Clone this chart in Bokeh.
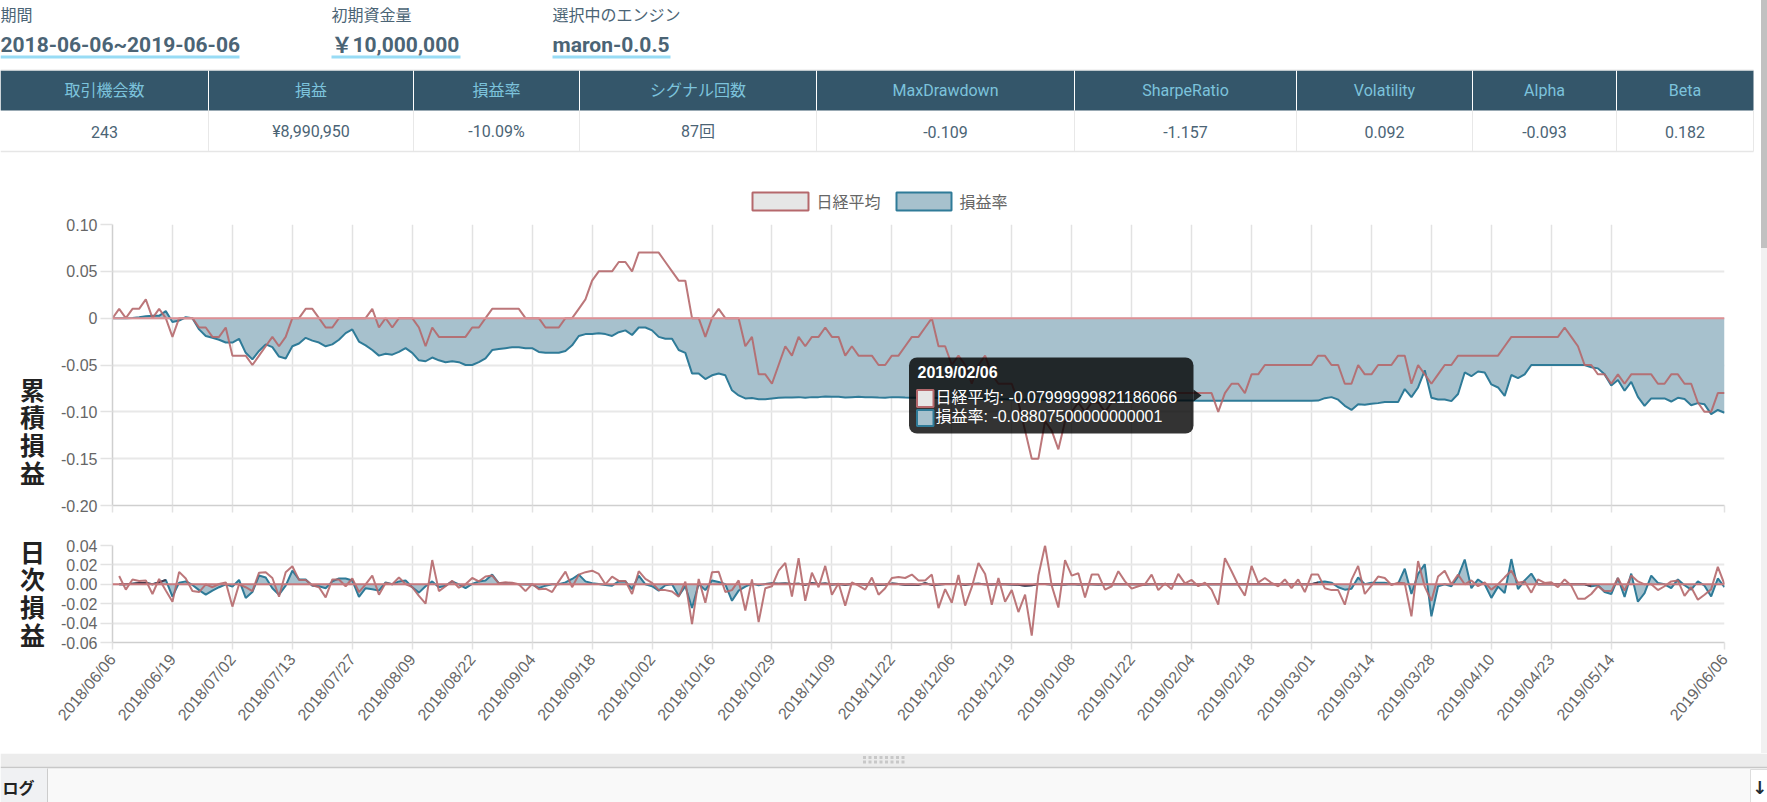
from bokeh.core.properties import value
from bokeh.embed import file_html
from bokeh.layouts import column, row
from bokeh.models import BoxAnnotation, Div, FixedTicker, Label, PolyAnnotation, Range1d, Span
from bokeh.plotting import figure
from bokeh.resources import INLINE

nan = float("nan")

# summary block
top_titles = ["期間", "初期資金量", "選択中のエンジン"]
top_values = ["2018-06-06~2019-06-06", "￥10,000,000", "maron-0.0.5"]
table_headers = ["取引機会数", "損益", "損益率", "シグナル回数", "MaxDrawdown", "SharpeRatio", "Volatility", "Alpha", "Beta"]
table_values = ["243", "¥8,990,950", "-10.09%", "87回", "-0.109", "-1.157", "0.092", "-0.093", "0.182"]

# x axis, one point per trading day
tick_index = [0, 9, 18, 27, 36, 45, 54, 63, 72, 81, 90, 99, 108, 117, 126, 135, 144, 153, 162, 171, 180, 189, 198, 207, 216, 225, 242]
tick_dates = ["2018/06/06", "2018/06/19", "2018/07/02", "2018/07/13", "2018/07/27", "2018/08/09", "2018/08/22",
              "2018/09/04", "2018/09/18", "2018/10/02", "2018/10/16", "2018/10/29", "2018/11/09", "2018/11/22",
              "2018/12/06", "2018/12/19", "2019/01/08", "2019/01/22", "2019/02/04", "2019/02/18", "2019/03/01",
              "2019/03/14", "2019/03/28", "2019/04/10", "2019/04/23", "2019/05/14", "2019/06/06"]

nikkei_cum = [
    0, .01, 0, .01, .01, .02, 0, .01, 0, -.02,
    0, 0, 0, -.01, -.01, -.02, -.02, -.01, -.04, -.04,
    -.04, -.05, -.04, -.03, -.02, -.03, -.02, 0, 0, .01,
    .01, 0, -.01, -.01, 0, 0, 0, 0, 0, .01,
    -.01, 0, -.01, 0, 0, 0, -.01, -.03, -.01, -.02,
    -.02, -.02, -.02, -.02, -.01, -.01, 0, .01, .01, .01,
    .01, .01, 0, 0, 0, -.01, -.01, -.01, 0, 0,
    .01, .02, .04, .05, .05, .05, .06, .06, .05, .07,
    .07, .07, .07, .06, .05, .04, .04, 0, 0, -.02,
    0, .01, 0, 0, 0, -.03, -.02, -.06, -.06, -.07,
    -.05, -.03, -.04, -.02, -.03, -.02, -.02, -.01, -.02, -.02,
    -.04, -.03, -.04, -.04, -.04, -.05, -.05, -.04, -.04, -.03,
    -.02, -.02, -.01, 0, -.03, -.03, -.05, -.04, -.05, -.07,
    -.05, -.04, -.06, -.07, -.07, -.07, -.09, -.12, -.15, -.15,
    -.11, -.12, -.14, -.11, -.10, -.09, -.10, -.09, -.09, -.10,
    -.09, -.08, -.08, -.08, -.08, -.08, -.08, -.08, -.08, -.08,
    -.08, -.08, -.08, -.08, -.08, -.08, -.10, -.08, -.07, -.07,
    -.08, -.06, -.06, -.05, -.05, -.05, -.05, -.05, -.05, -.05,
    -.05, -.04, -.04, -.05, -.05, -.07, -.07, -.05, -.06, -.06,
    -.05, -.05, -.05, -.04, -.04, -.07, -.05, -.06, -.07, -.06,
    -.05, -.05, -.04, -.04, -.04, -.04, -.04, -.04, -.04, -.03,
    -.02, -.02, -.02, -.02, -.02, -.02, -.02, -.02, -.01, -.02,
    -.03, -.05, -.05, -.06, -.06, -.07, -.06, -.07, -.06, -.06,
    -.06, -.06, -.07, -.07, -.06, -.06, -.07, -.07, -.09, -.10,
    -.10, -.08, -.08,
]
engine_cum = [
    0, 0, 0, .0003, .001, .002, .0025, .0025, .0075, -.004,
    -.0025, .001, 0, -.012, -.019, -.021, -.023, -.026, -.026, -.022,
    -.037, -.044, -.035, -.028, -.031, -.041, -.043, -.03, -.027, -.021,
    -.024, -.026, -.03, -.028, -.023, -.016, -.012, -.025, -.029, -.034,
    -.04, -.038, -.039, -.036, -.032, -.037, -.045, -.046, -.042, -.045,
    -.047, -.046, -.047, -.05, -.05, -.047, -.043, -.034, -.033, -.032,
    -.031, -.031, -.032, -.032, -.036, -.037, -.037, -.037, -.035, -.029,
    -.019, -.017, -.017, -.016, -.017, -.019, -.015, -.013, -.018, -.01,
    -.01, -.013, -.02, -.022, -.022, -.034, -.037, -.059, -.059, -.065,
    -.061, -.059, -.061, -.077, -.0825, -.0857, -.0853, -.0865, -.0865, -.0857,
    -.085, -.0847, -.0847, -.0843, -.085, -.0843, -.0843, -.0836, -.084, -.084,
    -.0847, -.0843, -.084, -.0843, -.0843, -.0847, -.085, -.0843, -.0843, -.0847,
    -.085, -.085, -.085, -.085, -.0853, -.0855, -.0857, -.0855, -.086, -.086,
    -.0862, -.086, -.0862, -.0865, -.0865, -.0868, -.0868, -.087, -.087, -.0872,
    -.0872, -.0875, -.0875, -.0876, -.0876, -.0878, -.0878, -.0878, -.088, -.088,
    -.088, -.088, -.088, -.088, -.088, -.088, -.088, -.088, -.088, -.088,
    -.088, -.088, -.088, -.0881, -.088075, -.0881, -.0881, -.0881, -.0881, -.0881,
    -.0881, -.0881, -.0881, -.0881, -.0881, -.0881, -.0881, -.0881, -.0881, -.0881,
    -.0881, -.088, -.0854, -.0843, -.087, -.0936, -.098, -.092, -.0925, -.0914,
    -.0907, -.0896, -.0896, -.0896, -.0757, -.0843, -.074, -.0557, -.085, -.0868,
    -.0868, -.0886, -.081, -.058, -.062, -.057, -.058, -.0707, -.074, -.083,
    -.0607, -.064, -.06, -.05, -.05, -.05, -.05, -.05, -.05, -.05,
    -.05, -.05, -.0525, -.0536, -.06, -.072, -.066, -.0775, -.068, -.084,
    -.0936, -.0857, -.0857, -.0857, -.089, -.085, -.0864, -.0929, -.0907, -.092,
    -.1025, -.098, -.101,
]
nikkei_daily = [
    nan, .0086, -.0055, .005, .0035, .004, -.01, .0055, -.0065, -.018,
    .0128, .006, -.007, -.008, 0, -.003, .0003, .002, -.023, 0,
    -.003, -.007, .012, .0125, .0065, -.0127, .0125, .0186, .0045, .0045,
    -.001, -.003, -.0135, .005, .005, -.002, .006, -.008, 0, .009,
    -.0107, .0014, 0, .007, .0003, -.003, -.012, -.02, .025, -.007,
    -.002, .0035, -.0035, 0, .0065, .003, .008, .009, .001, .002,
    .0015, 0, -.007, .0003, -.005, -.0045, -.008, .003, .013, -.003,
    .01, .0125, .014, .0107, 0, .008, .0035, .0035, -.01, .0135,
    .0055, .0014, -.006, -.006, -.0075, -.0127, .0028, -.041, .0055, -.019,
    .0124, .013, -.008, -.006, .004, -.027, .005, -.039, -.004, -.002,
    .014, .022, -.0127, .027, -.017, .012, -.003, .019, -.0107, .001,
    -.022, .002, -.0014, -.0055, .007, -.0107, -.004, .0065, .0076, .0065,
    .01, .004, .004, .01, -.0245, -.005, -.019, .0097, -.022, -.003,
    .022, .0107, -.021, .0065, -.018, -.006, -.0286, -.0107, -.053, .009,
    .04, -.0014, -.024, .025, .009, .0114, -.0135, .01, .01, -.0055,
    -.002, .0135, .003, -.0045, -.002, 0, .01, -.006, .001, -.005,
    .0107, .001, .0045, -.002, .0017, -.0055, -.021, .027, .0135, -.0007,
    -.0117, .019, .0017, .0065, .0014, -.002, .005, -.004, .005, -.008,
    .01, .01, -.004, -.006, -.006, -.021, .0045, .019, -.01, -.0014,
    .008, .0065, -.0007, .0017, .001, -.033, .024, -.0024, -.017, .008,
    .014, 0, .01, 0, .004, -.002, .002, -.0055, 0, .0072,
    .014, .0017, .003, -.0086, .005, .0014, .002, -.003, .005, -.0014,
    -.015, -.015, -.01, -.002, -.007, -.007, .0065, -.0065, .009, .003,
    0, 0, -.006, -.002, .003, .004, -.012, -.003, -.016, -.0107,
    -.005, .018, 0,
]
engine_daily = [
    nan, 0, 0, .0007, .0014, .0014, 0, .002, .0045, -.0127,
    .0017, .003, -.0007, -.006, -.0107, -.0065, -.003, 0, -.0024, .0045,
    -.014, -.008, .009, .007, -.004, -.0107, -.0014, .014, .005, .005,
    -.0014, -.002, -.004, .003, .006, .006, .004, -.013, -.004, -.005,
    -.0065, .002, 0, .003, .004, -.003, -.0086, -.002, .003, -.003,
    -.0014, .003, 0, -.004, .0003, .003, .004, .01, .001, .001,
    .0007, 0, -.0003, 0, -.004, -.0014, 0, 0, .002, .0055,
    .01, .003, .001, .0003, -.0007, -.0014, .003, .003, -.005, .009,
    0, -.002, -.0065, -.001, 0, -.012, -.002, -.0245, .0003, -.006,
    .004, .0024, 0, -.017, -.0065, -.0024, .0007, -.001, .0003, .0008,
    .0005, .0008, .0003, .0006, -.0005, .0012, .0003, .0008, -.0002, .0002,
    -.0004, .0004, .0003, -.0003, .0002, -.0004, -.0003, .0007, .0002, -.0004,
    -.0003, -.0006, .001, -.0006, -.0002, .0004, .0002, .0004, -.0004, .0003,
    .0005, .0001, -.0002, .0002, .0001, -.0002, -.0004, -.0014, -.001, .0004,
    .0002, -.0002, .0001, -.0001, .0002, -.0002, 0, .0001, -.0002, 0,
    0, .0001, 0, 0, 0, -.0001, 0, 0, 0, 0,
    0, 0, 0, -.0001, .0001, 0, 0, 0, 0, 0,
    0, 0, 0, 0, 0, 0, 0, 0, 0, 0,
    0, .002, .0028, .0017, -.003, -.0055, -.0046, .007, 0, .0017,
    .0017, .0017, 0, .0007, .016, -.01, .0107, .0207, -.033, -.002,
    0, -.002, .008, .0255, -.004, .005, 0, -.014, -.0024, -.009,
    .026, -.005, .004, .011, 0, 0, 0, 0, 0, 0,
    0, 0, -.002, -.001, -.008, -.01, .0065, -.013, .011, -.018,
    -.009, .009, .0014, 0, -.004, .005, -.001, -.0055, .003, -.0014,
    -.0125, .006, -.003,
]
index = list(range(len(nikkei_cum)))

# days where the engine stays flat and both lines sit on the zero line
flat_days = [(1, 8), (98, 181), (214, 222)]

cum_ticks = [0.10, 0.05, 0, -0.05, -0.10, -0.15, -0.20]
cum_tick_labels = ["0.10", "0.05", "0", "-0.05", "-0.10", "-0.15", "-0.20"]
daily_ticks = [0.04, 0.02, 0, -0.02, -0.04, -0.06]
daily_tick_labels = ["0.04", "0.02", "0.00", "-0.02", "-0.04", "-0.06"]

NAVY = "#34566a"
SKY = "#7cc3dc"
BODY = "#4b6475"
RED = "#b5686c"
BLUE = "#2f7b98"
BLUE_FILL = "#a7c1cd"
UI_FONT = "Roboto, 'Noto Sans CJK JP'"
CJK_FONT = "'Noto Sans CJK JP'"
AXIS_FONT = "'Liberation Sans', 'Noto Sans CJK JP'"
CONTENT_W = 1761
TITLE_W = 48
LEFT = 112
RIGHT = 1724


def page_figure(w, h, y0):
    # figure whose data coordinates are page pixels, for the parts around the charts
    p = figure(width=w, height=h, output_backend="svg", toolbar_location=None, frame_align=False,
               x_range=Range1d(0, w), y_range=Range1d(y0 + h, y0),
               x_axis_type=None, y_axis_type=None, min_border=0)
    p.grid.visible = False
    p.outline_line_color = None
    return p


# header, runs down to the chart legend
head = page_figure(CONTENT_W, 212, 0)
under_l = [0, 331, 552]
under_r = [239, 460, 670]
head.text(under_l, [15, 15, 15], text=top_titles, text_font=value(UI_FONT), text_font_size="16px",
          text_color=BODY, text_baseline="middle")
head.text(under_l, [44, 44, 44], text=top_values, text_font=value(UI_FONT), text_font_size="21px",
          text_font_style="bold", text_color=BODY, text_baseline="middle")
head.quad(left=under_l, right=under_r, top=[58, 58, 58], bottom=[55, 55, 55], fill_color="#98dcf5", line_color=None)

col_edges = [0, 208, 413, 579, 816, 1074, 1296, 1472, 1616, 1753]
centers = [(a + b) / 2 for a, b in zip(col_edges[:-1], col_edges[1:])]
head.quad(left=col_edges[:-1], right=col_edges[1:], top=[70] * 9, bottom=[110] * 9, fill_color=NAVY, line_color=None)
head.segment(col_edges[1:-1], [70] * 8, col_edges[1:-1], [110] * 8, line_color="white", line_width=1)
head.segment(col_edges[1:], [110] * 9, col_edges[1:], [151] * 9, line_color="#e8e8e8", line_width=1)
head.segment([0], [151], [1753], [151], line_color="#e6e6e6", line_width=1.5)
head.segment([0], [69.5], [1753], [69.5], line_color="#e6e6e6", line_width=1)
head.text(centers, [90] * 9, text=table_headers, text_font=value(UI_FONT), text_font_size="16px", text_color=SKY,
          text_align="center", text_baseline="middle")
head.text(centers, [131] * 9, text=table_values, text_font=value(UI_FONT), text_font_size="16px", text_color=BODY,
          text_align="center", text_baseline="middle")

# legend of the cumulative chart
head.quad(left=[752, 896], right=[808, 951], top=[192, 192], bottom=[210, 210],
          fill_color=["#e6e6e6", BLUE_FILL], line_color=[RED, BLUE], line_width=2)
head.text([816, 959], [200, 200], text=["日経平均", "損益率"], text_font=value(CJK_FONT), text_font_size="16px",
          text_color="#666666", text_baseline="middle")


def chart(h, top, bottom, y_lo, y_hi, ticks, tick_labels):
    p = figure(width=CONTENT_W - TITLE_W, height=h, output_backend="svg", toolbar_location=None, frame_align=False,
               x_range=Range1d(0, 242), y_range=Range1d(y_lo, y_hi),
               min_border_left=LEFT - TITLE_W, min_border_right=CONTENT_W - RIGHT,
               min_border_top=top, min_border_bottom=bottom)
    p.outline_line_color = None
    p.xaxis.ticker = FixedTicker(ticks=tick_index)
    p.yaxis.ticker = FixedTicker(ticks=ticks)
    p.yaxis.major_label_overrides = dict(zip(ticks, tick_labels))
    p.xgrid.ticker = FixedTicker(ticks=tick_index)
    p.ygrid.ticker = FixedTicker(ticks=ticks)
    p.xgrid.grid_line_color = "#e2e2e2"
    p.xgrid.grid_line_width = 1.5
    p.ygrid.grid_line_color = "#e8e8e8"
    p.ygrid.grid_line_width = 2
    p.axis.minor_tick_line_color = None
    p.axis.major_tick_in = 0
    p.axis.axis_line_color = "#cfcfcf"
    p.axis.axis_line_width = 1.5
    p.axis.major_tick_line_color = "#e2e2e2"
    p.axis.major_tick_line_width = 1.5
    p.yaxis.major_tick_out = 12
    p.yaxis.major_label_standoff = 3
    p.xaxis.major_tick_out = 7
    p.axis.major_label_text_font = AXIS_FONT
    p.axis.major_label_text_font_size = "16px"
    p.axis.major_label_text_color = "#666666"
    return p


def title_column(h, y0, chars, first_y):
    # narrow figure left of a chart, holds the stacked title
    p = page_figure(TITLE_W, h, y0)
    p.text([32] * 4, [first_y + 27.7 * i for i in range(4)], text=list(chars), text_font=value(CJK_FONT),
           text_font_size="25px", text_font_style="bold", text_color="#222222",
           text_align="center", text_baseline="middle")
    return p


def flat_lines(p, values):
    for a, b in flat_days:
        p.line(index[a:b + 1], values[a:b + 1], line_color="#483a4c", line_width=2)


# cumulative chart, frame spans page y 224..505
cum = chart(313, 12, 20, -0.20, 0.10, cum_ticks, cum_tick_labels)
cum.xaxis.major_label_overrides = {i: "" for i in tick_index}


def cx(px):
    return (px - LEFT) / (RIGHT - LEFT) * 242


def cy(py):
    return 0.10 - (py - 224) / 281 * 0.30


cum.varea(index, [0] * len(index), engine_cum, fill_color=BLUE_FILL, fill_alpha=1)
cum.add_layout(Span(location=0, dimension="width", line_color="#dd9095", line_width=2))
cum.line(index, engine_cum, line_color=BLUE, line_width=2)
cum.line(index, nikkei_cum, line_color=RED, line_width=2, line_alpha=0.9)

# hover box drawn open, as in the screenshot
cum.add_layout(BoxAnnotation(left=cx(908.5), right=cx(1193), top=cy(357), bottom=cy(433), fill_color="black",
                             fill_alpha=0.8, line_color=None, border_radius=8, level="overlay"))
cum.add_layout(PolyAnnotation(xs=[cx(1193), cx(1201), cx(1193)], ys=[cy(389), cy(395), cy(401)], fill_color="black",
                              fill_alpha=0.8, line_color=None, level="overlay"))
cum.add_layout(BoxAnnotation(left=cx(916.5), right=cx(933), top=cy(389.5), bottom=cy(406.5), fill_color="#e6e6e6",
                             line_color=RED, line_width=2, line_alpha=1, fill_alpha=1, level="overlay"))
cum.add_layout(BoxAnnotation(left=cx(916.5), right=cx(933), top=cy(409.5), bottom=cy(425.5), fill_color=BLUE_FILL,
                             line_color=BLUE, line_width=2, line_alpha=1, fill_alpha=1, level="overlay"))
cum.add_layout(Label(x=cx(917), y=cy(372), text="2019/02/06", text_font=AXIS_FONT, text_font_size="16px",
                     text_font_style="bold", text_color="white", text_baseline="middle", level="overlay"))
cum.add_layout(Label(x=cx(935), y=cy(397), text="日経平均: -0.07999999821186066", text_font=AXIS_FONT,
                     text_font_size="16px", text_color="white", text_baseline="middle", level="overlay"))
cum.add_layout(Label(x=cx(935), y=cy(416), text="損益率: -0.08807500000000001", text_font=AXIS_FONT,
                     text_font_size="16px", text_color="white", text_baseline="middle", level="overlay"))

# daily chart, frame spans page y 545..642
daily = chart(228, 20, 111, -0.06, 0.04, daily_ticks, daily_tick_labels)
daily.xaxis.major_label_overrides = dict(zip(tick_index, tick_dates))
daily.xaxis.major_label_orientation = 50 * 3.14159265 / 180
daily.xaxis.major_label_standoff = 7
daily.varea(index[1:], [0] * (len(index) - 1), engine_daily[1:], fill_color=BLUE_FILL, fill_alpha=1)
daily.add_layout(Span(location=0, dimension="width", line_color="#c8787c", line_width=2))
daily.line(index, engine_daily, line_color=BLUE, line_width=2)
flat_lines(daily, engine_daily)
daily.line(index, nikkei_daily, line_color=RED, line_width=2, line_alpha=0.9)

cum_row = row(title_column(313, 212, "累積損益", 388), cum, spacing=0)
daily_row = row(title_column(228, 525, "日次損益", 550), daily, spacing=0)

# bottom bar of the page
foot = page_figure(1767, 49, 753)
foot.quad(left=[0], right=[1767], top=[753], bottom=[767], fill_color="#ececec", line_color=None)
foot.quad(left=[0], right=[1767], top=[767.5], bottom=[802], fill_color="#f9f9f9", line_color=None)
foot.segment([0], [767], [1767], [767], line_color="#c8c8c8", line_width=1.5)
grip_x = [864 + 5.5 * i for i in range(8)]
foot.rect(grip_x, [757] * 8, 3, 3, fill_color="#c8c8c8", line_color=None)
foot.rect(grip_x, [761.5] * 8, 3, 3, fill_color="#c8c8c8", line_color=None)
foot.quad(left=[0], right=[47], top=[768], bottom=[802], fill_color="#f0f1f3", line_color=None)
foot.segment([47], [768], [47], [802], line_color="#cccccc", line_width=1)
foot.text([2], [786], text=["ログ"], text_font=value(CJK_FONT), text_font_size="16px", text_font_style="bold",
          text_color="#222222", text_baseline="middle")
foot.quad(left=[1750], right=[1770], top=[769], bottom=[802], fill_color="white", line_color="#dddddd")
foot.text([1759], [787], text=["↓"], text_font=value("DejaVu Sans"), text_font_size="18px", text_font_style="bold",
          text_color="#222c33", text_align="center", text_baseline="middle")

scrollbar = Div(text="", width=6, height=753, margin=0,
                styles={"background": "linear-gradient(#c1c1c1 248px, #f1f1f1 248px)"})

page = column(row(column(head, cum_row, daily_row, spacing=0), scrollbar, spacing=0), foot, spacing=0)

open("out.html", "w").write(file_html(page, INLINE))
